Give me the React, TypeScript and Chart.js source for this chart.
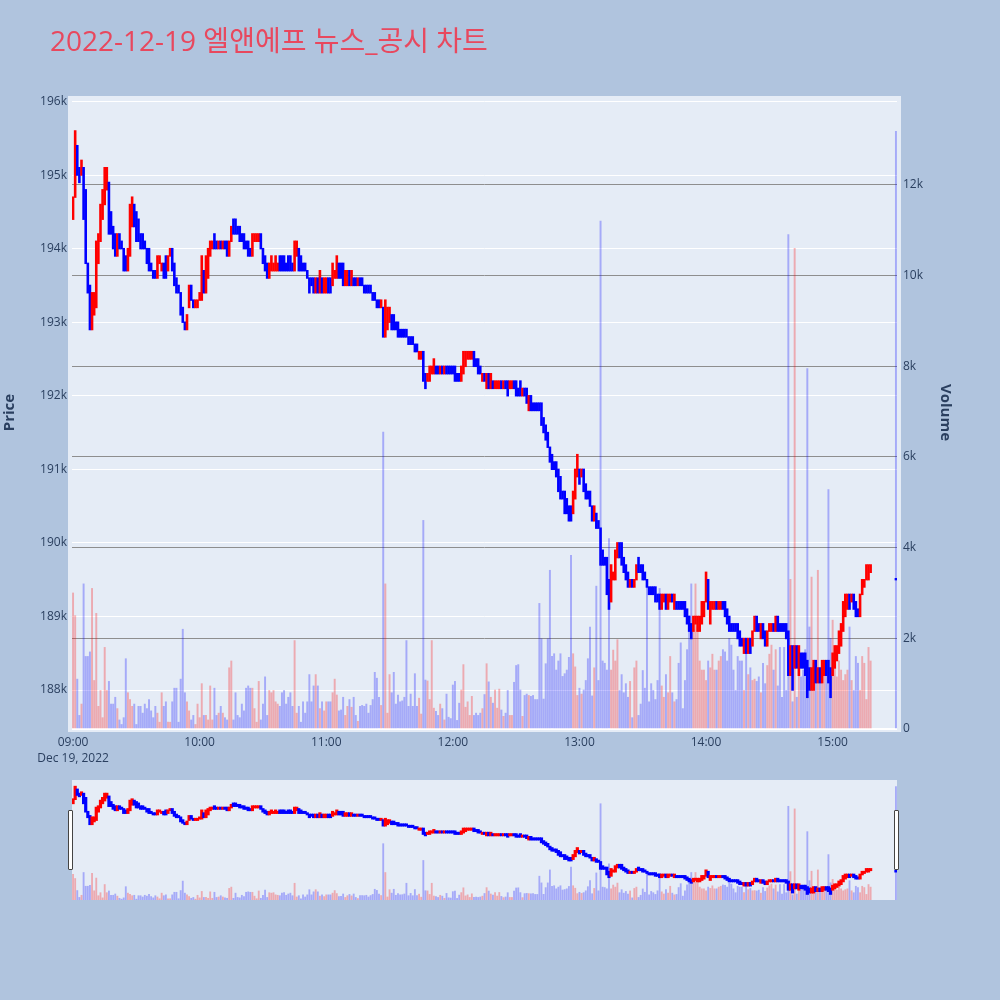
import React, { useEffect, useRef } from 'react';
import { Chart, registerables } from 'chart.js';

Chart.register(...registerables);

// ---------- texts ----------
const TITLE = '2022-12-19 엘앤에프 뉴스_공시 차트';
const PRICE_TITLE = 'Price';
const VOLUME_TITLE = 'Volume';
const DATE_LABEL = 'Dec 19, 2022';

// ---------- axes ----------
// x = minutes after 09:00
const TIME_TICKS = [0, 60, 120, 180, 240, 300, 360];
const TIME_TICK_LABELS = ['09:00', '10:00', '11:00', '12:00', '13:00', '14:00', '15:00'];
const PRICE_TICKS = [188000, 189000, 190000, 191000, 192000, 193000, 194000, 195000, 196000];
const VOLUME_TICKS = [0, 2000, 4000, 6000, 8000, 10000, 12000];
const CLOSING_AUCTION_MINUTE = 390; // 15:30

// ---------- data ----------
// 1-minute candles 09:00 ... 15:18, then the 15:30 closing auction (last entry).
// Prices in units of 100 KRW.
const OPENS_100 = [
  1944, 1947, 1954, 1951, 1950, 1951, 1948, 1938, 1935, 1929,
  1931, 1932, 1938, 1941, 1944, 1946, 1948, 1949, 1945, 1943,
  1942, 1939, 1942, 1941, 1940, 1939, 1937, 1939, 1943, 1946,
  1945, 1944, 1942, 1942, 1941, 1940, 1940, 1938, 1937, 1937,
  1936, 1938, 1937, 1938, 1939, 1937, 1939, 1940, 1938, 1936,
  1935, 1934, 1932, 1930, 1929, 1932, 1935, 1933, 1932, 1932,
  1933, 1933, 1937, 1934, 1936, 1939, 1940, 1942, 1941, 1940,
  1941, 1940, 1941, 1941, 1939, 1941, 1944, 1944, 1943, 1943,
  1942, 1942, 1941, 1941, 1940, 1939, 1941, 1941, 1941, 1942,
  1940, 1939, 1938, 1936, 1937, 1937, 1937, 1937, 1939, 1939,
  1939, 1938, 1939, 1939, 1938, 1937, 1939, 1940, 1939, 1938,
  1938, 1937, 1936, 1936, 1936, 1934, 1936, 1934, 1936, 1934,
  1934, 1936, 1936, 1935, 1936, 1936, 1938, 1938, 1938, 1935,
  1935, 1937, 1935, 1936, 1936, 1935, 1936, 1936, 1935, 1935,
  1935, 1935, 1934, 1934, 1933, 1933, 1932, 1932, 1928, 1929,
  1930, 1931, 1931, 1930, 1930, 1929, 1929, 1929, 1929, 1928,
  1928, 1928, 1927, 1927, 1925, 1925, 1926, 1923, 1922, 1922,
  1923, 1923, 1924, 1924, 1923, 1924, 1923, 1924, 1924, 1924,
  1924, 1924, 1923, 1923, 1922, 1923, 1924, 1925, 1925, 1925,
  1926, 1925, 1925, 1924, 1922, 1923, 1921, 1923, 1921, 1922,
  1921, 1921, 1921, 1922, 1921, 1922, 1922, 1921, 1921, 1922,
  1922, 1921, 1922, 1920, 1921, 1921, 1918, 1920, 1919, 1919,
  1919, 1919, 1919, 1917, 1916, 1915, 1913, 1912, 1911, 1911,
  1910, 1909, 1907, 1907, 1906, 1905, 1905, 1904, 1906, 1909,
  1910, 1909, 1910, 1908, 1907, 1907, 1905, 1903, 1904, 1903,
  1902, 1899, 1898, 1898, 1895, 1892, 1895, 1895, 1898, 1900,
  1900, 1898, 1897, 1896, 1894, 1895, 1894, 1895, 1898, 1897,
  1897, 1896, 1895, 1894, 1894, 1894, 1894, 1893, 1893, 1891,
  1892, 1893, 1891, 1892, 1893, 1891, 1892, 1892, 1892, 1892,
  1892, 1891, 1890, 1889, 1888, 1889, 1888, 1888, 1889, 1890,
  1892, 1895, 1889, 1891, 1891, 1892, 1891, 1891, 1892, 1892,
  1891, 1890, 1889, 1889, 1889, 1889, 1888, 1887, 1885, 1887,
  1885, 1887, 1886, 1888, 1890, 1889, 1887, 1889, 1888, 1886,
  1888, 1888, 1889, 1888, 1890, 1889, 1889, 1889, 1889, 1888,
  1882, 1886, 1883, 1886, 1882, 1885, 1885, 1885, 1884, 1883,
  1880, 1880, 1884, 1881, 1883, 1881, 1882, 1884, 1884, 1883,
  1882, 1883, 1884, 1885, 1886, 1888, 1890, 1891, 1893, 1892,
  1893, 1892, 1891, 1890, 1893, 1894, 1895, 1895, 1896,
  1895,
];
const CLOSES_100 = [
  1947, 1956, 1950, 1949, 1952, 1944, 1938, 1934, 1929, 1934,
  1934, 1941, 1942, 1946, 1948, 1951, 1951, 1942, 1942, 1940,
  1939, 1942, 1940, 1940, 1937, 1937, 1940, 1946, 1947, 1943,
  1941, 1941, 1940, 1940, 1940, 1938, 1937, 1937, 1936, 1936,
  1939, 1939, 1938, 1936, 1936, 1939, 1940, 1937, 1935, 1934,
  1934, 1931, 1930, 1929, 1931, 1935, 1933, 1932, 1933, 1933,
  1934, 1939, 1934, 1939, 1940, 1941, 1941, 1940, 1940, 1941,
  1940, 1941, 1940, 1939, 1941, 1943, 1942, 1942, 1942, 1941,
  1941, 1940, 1940, 1939, 1939, 1942, 1942, 1942, 1942, 1940,
  1938, 1937, 1936, 1938, 1939, 1938, 1939, 1938, 1937, 1937,
  1937, 1937, 1937, 1937, 1937, 1941, 1941, 1937, 1937, 1937,
  1937, 1936, 1934, 1935, 1934, 1936, 1934, 1937, 1934, 1936,
  1936, 1934, 1934, 1938, 1937, 1939, 1936, 1936, 1935, 1937,
  1937, 1935, 1937, 1935, 1935, 1936, 1935, 1935, 1934, 1934,
  1934, 1934, 1933, 1933, 1932, 1932, 1933, 1928, 1933, 1932,
  1932, 1929, 1929, 1929, 1928, 1928, 1928, 1928, 1928, 1927,
  1927, 1927, 1926, 1926, 1926, 1926, 1922, 1921, 1923, 1924,
  1924, 1925, 1923, 1923, 1924, 1923, 1924, 1923, 1923, 1923,
  1923, 1922, 1922, 1922, 1924, 1926, 1926, 1926, 1926, 1926,
  1924, 1924, 1923, 1923, 1923, 1922, 1923, 1921, 1923, 1921,
  1922, 1922, 1922, 1921, 1922, 1921, 1920, 1922, 1922, 1921,
  1920, 1920, 1920, 1921, 1920, 1919, 1920, 1918, 1918, 1918,
  1918, 1918, 1916, 1915, 1914, 1913, 1911, 1910, 1910, 1909,
  1907, 1906, 1906, 1904, 1904, 1903, 1903, 1907, 1910, 1912,
  1908, 1910, 1907, 1906, 1906, 1905, 1903, 1905, 1902, 1902,
  1897, 1897, 1897, 1893, 1891, 1897, 1896, 1899, 1900, 1898,
  1897, 1896, 1895, 1894, 1895, 1894, 1895, 1897, 1896, 1896,
  1895, 1895, 1894, 1893, 1893, 1893, 1892, 1892, 1891, 1893,
  1893, 1891, 1893, 1893, 1892, 1893, 1891, 1891, 1891, 1891,
  1890, 1889, 1888, 1887, 1890, 1890, 1890, 1890, 1892, 1892,
  1896, 1891, 1892, 1892, 1892, 1891, 1892, 1892, 1891, 1890,
  1889, 1888, 1888, 1888, 1888, 1887, 1886, 1886, 1887, 1885,
  1887, 1885, 1888, 1890, 1888, 1888, 1889, 1887, 1886, 1888,
  1889, 1889, 1888, 1890, 1888, 1888, 1888, 1888, 1887, 1882,
  1886, 1880, 1886, 1883, 1886, 1883, 1883, 1882, 1879, 1880,
  1883, 1884, 1881, 1883, 1881, 1884, 1884, 1882, 1881, 1879,
  1885, 1886, 1886, 1888, 1889, 1892, 1893, 1893, 1891, 1893,
  1891, 1890, 1890, 1893, 1895, 1895, 1897, 1897, 1897,
  1895,
];
// Volume in thousands of shares, same order.
const VOLUMES_K = [
  3.0, 2.5, 1.1, 0.3, 0.55, 3.2, 1.6, 1.6, 1.7, 3.1,
  1.07, 2.55, 0.5, 0.85, 0.25, 1.8, 0.85, 1.05, 0.55, 0.55,
  0.7, 0.45, 0.2, 0.1, 0.25, 1.55, 0.8, 0.65, 0.5, 0.55,
  0.1, 0.5, 0.5, 0.35, 0.55, 0.45, 0.65, 0.4, 0.25, 0.5,
  0.35, 0.15, 0.8, 0.5, 0.6, 0.15, 0.15, 0.6, 0.9, 0.9,
  0.15, 1.1, 2.2, 0.8, 0.6, 0.4, 0.2, 0.3, 0.1, 0.55,
  0.25, 1.0, 0.3, 0.3, 0.2, 0.95, 0.2, 0.9, 0.3, 0.35,
  0.5, 0.35, 0.25, 0.2, 1.35, 1.5, 0.2, 0.8, 0.3, 0.25,
  0.55, 0.4, 0.9, 0.95, 0.9, 0.9, 0.45, 0.15, 1.05, 0.2,
  0.55, 1.15, 0.3, 0.85, 0.8, 0.85, 0.6, 0.55, 0.5, 0.8,
  0.85, 0.55, 0.7, 0.8, 0.5, 1.95, 0.35, 0.5, 0.15, 0.6,
  0.35, 0.6, 1.2, 0.6, 0.95, 1.2, 0.95, 0.45, 0.6, 0.4,
  0.6, 0.6, 0.6, 0.8, 1.1, 0.75, 0.4, 0.42, 0.7, 0.3,
  0.5, 0.65, 0.48, 0.7, 0.3, 0.17, 0.5, 0.52, 0.5, 0.55,
  0.35, 0.52, 0.65, 1.25, 1.12, 0.7, 0.52, 6.55, 3.2, 0.35,
  1.2, 0.8, 1.25, 0.55, 0.75, 0.6, 0.62, 0.7, 1.95, 0.5,
  0.77, 0.5, 1.22, 0.5, 0.68, 0.33, 4.6, 1.08, 1.06, 0.65,
  1.95, 0.46, 0.39, 0.3, 0.55, 0.45, 0.2, 0.77, 0.26, 0.23,
  0.97, 1.05, 0.19, 0.57, 0.86, 1.42, 0.48, 0.6, 0.3, 0.72,
  0.3, 0.35, 0.3, 0.35, 0.45, 0.76, 1.44, 1.04, 0.7, 0.57,
  0.86, 0.46, 0.88, 0.42, 0.28, 0.35, 0.85, 0.3, 0.3, 1.03,
  1.4, 1.42, 0.86, 0.28, 0.74, 0.77, 0.74, 0.72, 0.74, 0.65,
  0.65, 2.77, 1.99, 0.66, 1.44, 1.99, 3.5, 1.6, 1.66, 1.3,
  1.5, 1.66, 1.16, 1.22, 1.3, 1.58, 3.83, 1.66, 1.37, 0.74,
  0.9, 0.77, 0.86, 1.07, 1.55, 2.25, 0.73, 1.35, 3.15, 1.07,
  11.2, 1.5, 1.45, 1.3, 4.2, 1.3, 1.74, 1.5, 1.97, 0.85,
  1.2, 0.8, 1.0, 0.7, 1.05, 0.25, 1.35, 1.5, 0.3, 0.55,
  1.29, 0.9, 3.2, 0.6, 1.0, 0.85, 0.65, 1.07, 3.1, 0.95,
  0.7, 1.2, 0.8, 1.6, 0.8, 0.6, 0.65, 1.45, 1.9, 0.45,
  1.07, 1.75, 2.5, 3.2, 2.2, 3.2, 2.25, 1.5, 1.3, 1.3,
  1.07, 1.5, 1.35, 1.65, 1.3, 1.3, 1.5, 1.6, 1.75, 1.7,
  1.5, 2.0, 1.85, 1.3, 0.85, 1.6, 1.5, 1.5, 0.85, 1.85,
  1.2, 1.35, 1.07, 1.1, 1.05, 1.15, 0.8, 1.45, 1.0, 1.4,
  1.65, 1.85, 1.3, 1.75, 0.95, 1.8, 0.7, 1.8, 0.85, 10.9,
  3.3, 0.6, 10.6, 0.7, 1.3, 1.15, 1.3, 1.75, 7.95, 2.25,
  3.35, 1.45, 1.3, 3.5, 1.3, 1.35, 1.2, 1.35, 5.28, 2.0,
  2.4, 1.7, 1.15, 1.5, 1.3, 1.07, 1.2, 1.3, 2.25, 1.07,
  0.85, 1.6, 1.45, 0.85, 1.6, 1.45, 0.65, 1.8, 1.5,
  13.18,
];

// ---------- styling ----------
const FONT = '"Open Sans", "Noto Sans CJK KR", sans-serif';
const TEXT_COLOR = '#2a3f5f';
const PAGE_BG = '#b0c4de';
const PLOT_BG = '#e5ecf6';
const UP = '#ff0000';
const DOWN = '#0000ff';
const UP_VOL = 'rgba(255,0,0,0.28)';
const DOWN_VOL = 'rgba(0,0,255,0.28)';
const PRICE_MIN = 187470;
const PRICE_MAX = 196075;
const VOLUME_MAX = 13958;
const X_MIN = -0.5;
const X_MAX = 390.5;

function buildDatasets(candleWidth: number, candleInflate: number, volWidth: number): any[] {
  const n = OPENS_100.length;
  const minutes = OPENS_100.map((_, i) => (i === n - 1 ? CLOSING_AUCTION_MINUTE : i));
  const up = OPENS_100.map((o, i) => CLOSES_100[i] > o);
  return [
    {
      type: 'bar',
      label: 'Volume',
      yAxisID: 'y1',
      order: 2,
      grouped: false,
      data: minutes.map((m, i) => ({ x: m, y: VOLUMES_K[i] * 1000 })),
      backgroundColor: up.map((u) => (u ? UP_VOL : DOWN_VOL)),
      barThickness: volWidth,
      borderWidth: 0,
    },
    {
      type: 'bar',
      label: 'Price',
      yAxisID: 'y',
      order: 1,
      grouped: false,
      data: minutes.map((m, i) => ({ x: m, y: [OPENS_100[i] * 100, CLOSES_100[i] * 100] })),
      backgroundColor: up.map((u) => (u ? UP : DOWN)),
      barThickness: candleWidth,
      inflateAmount: candleInflate,
      minBarLength: 1,
      borderWidth: 0,
    },
  ];
}

const plotBgPlugin = {
  id: 'plotBg',
  beforeDraw(chart: any) {
    const { ctx, chartArea: a } = chart;
    ctx.save();
    ctx.fillStyle = PLOT_BG;
    ctx.fillRect(a.left - 4, a.top, a.right - a.left + 8, a.bottom - a.top + 3);
    ctx.restore();
  },
};

export default function App() {
  const mainRef = useRef<HTMLCanvasElement | null>(null);
  const sliderRef = useRef<HTMLCanvasElement | null>(null);

  useEffect(() => {
    const tickFont = { family: FONT, size: 12, lineHeight: 1.3 };
    const main = new Chart(mainRef.current as HTMLCanvasElement, {
      type: 'bar',
      data: { datasets: buildDatasets(1.2, 0.7, 1.3) },
      options: {
        responsive: false,
        maintainAspectRatio: false,
        animation: false,
        layout: { padding: { top: 96, left: 0, right: 0, bottom: 0 } },
        plugins: { legend: { display: false }, tooltip: { enabled: false } },
        scales: {
          x: {
            type: 'linear',
            position: 'bottom',
            min: X_MIN,
            max: X_MAX,
            offset: false,
            grid: { display: false, drawTicks: false, offset: false },
            border: { display: false },
            afterBuildTicks: (s: any) => {
              s.ticks = TIME_TICKS.map((v) => ({ value: v }));
            },
            afterFit: (s: any) => {
              s.height = 46;
            },
            ticks: {
              autoSkip: false,
              maxRotation: 0,
              padding: 6,
              color: TEXT_COLOR,
              font: tickFont,
              callback: (v: any) => {
                const i = TIME_TICKS.indexOf(Number(v));
                const label = i >= 0 ? TIME_TICK_LABELS[i] : '';
                return i === 0 ? [label, DATE_LABEL] : label;
              },
            },
          },
          y: {
            type: 'linear',
            position: 'left',
            min: PRICE_MIN,
            max: PRICE_MAX,
            grid: { color: '#ffffff', lineWidth: 1, drawTicks: false },
            border: { display: false },
            afterBuildTicks: (s: any) => {
              s.ticks = PRICE_TICKS.map((v) => ({ value: v }));
            },
            afterFit: (s: any) => {
              s.width = 72;
            },
            ticks: {
              padding: 5,
              color: TEXT_COLOR,
              font: tickFont,
              callback: (v: any) => `${Number(v) / 1000}k`,
            },
            title: {
              display: true,
              text: PRICE_TITLE,
              color: TEXT_COLOR,
              font: { family: FONT, size: 15, weight: 'bold' },
              padding: { top: 1, bottom: 0 },
            },
          },
          y1: {
            type: 'linear',
            position: 'right',
            min: 0,
            max: VOLUME_MAX,
            grid: {
              color: (ctx: any) => (ctx.tick && ctx.tick.value === 0 ? '#ffffff' : '#8e8e8e'),
              lineWidth: (ctx: any) => (ctx.tick && ctx.tick.value === 0 ? 2 : 1),
              drawTicks: false,
            },
            border: { display: false },
            afterBuildTicks: (s: any) => {
              s.ticks = VOLUME_TICKS.map((v) => ({ value: v }));
            },
            afterFit: (s: any) => {
              s.width = 103;
            },
            ticks: {
              padding: 6,
              color: TEXT_COLOR,
              font: tickFont,
              callback: (v: any) => (Number(v) === 0 ? '0' : `${Number(v) / 1000}k`),
            },
            title: {
              display: true,
              text: VOLUME_TITLE,
              color: TEXT_COLOR,
              font: { family: FONT, size: 15, weight: 'bold' },
              padding: { top: 46, bottom: 0 },
            },
          },
        },
      } as any,
      plugins: [plotBgPlugin],
    });

    const slider = new Chart(sliderRef.current as HTMLCanvasElement, {
      type: 'bar',
      data: { datasets: buildDatasets(1.6, 0.8, 1.2) },
      options: {
        responsive: false,
        maintainAspectRatio: false,
        animation: false,
        layout: { padding: 0 },
        plugins: { legend: { display: false }, tooltip: { enabled: false } },
        scales: {
          x: { type: 'linear', display: false, min: X_MIN, max: X_MAX, offset: false },
          y: { type: 'linear', display: false, min: PRICE_MIN, max: PRICE_MAX },
          y1: { type: 'linear', display: false, min: 0, max: VOLUME_MAX },
        },
      } as any,
    });

    return () => {
      main.destroy();
      slider.destroy();
    };
  }, []);

  const handle = (left: number) => (
    <div
      style={{
        position: 'absolute',
        left,
        top: 810,
        width: 3,
        height: 58,
        background: '#ffffff',
        border: '1px solid #444',
        borderRadius: 1,
      }}
    />
  );

  return (
    <div
      style={{
        position: 'absolute',
        left: 0,
        top: 0,
        width: 1000,
        height: 1000,
        background: PAGE_BG,
        overflow: 'hidden',
      }}
    >
      <canvas
        ref={mainRef}
        width={1000}
        height={775}
        style={{ position: 'absolute', left: 0, top: 0, width: 1000, height: 775 }}
      />
      <div
        style={{
          position: 'absolute',
          left: 72,
          top: 780,
          width: 825,
          height: 120,
          background: PLOT_BG,
        }}
      >
        <canvas ref={sliderRef} width={825} height={120} style={{ display: 'block', width: 825, height: 120 }} />
      </div>
      {handle(68)}
      {handle(894)}
      <div
        style={{
          position: 'absolute',
          left: 50,
          top: 26,
          fontFamily: FONT,
          fontSize: 28,
          lineHeight: '28px',
          color: '#e8485e',
          whiteSpace: 'nowrap',
        }}
      >
        {TITLE}
      </div>
    </div>
  );
}
